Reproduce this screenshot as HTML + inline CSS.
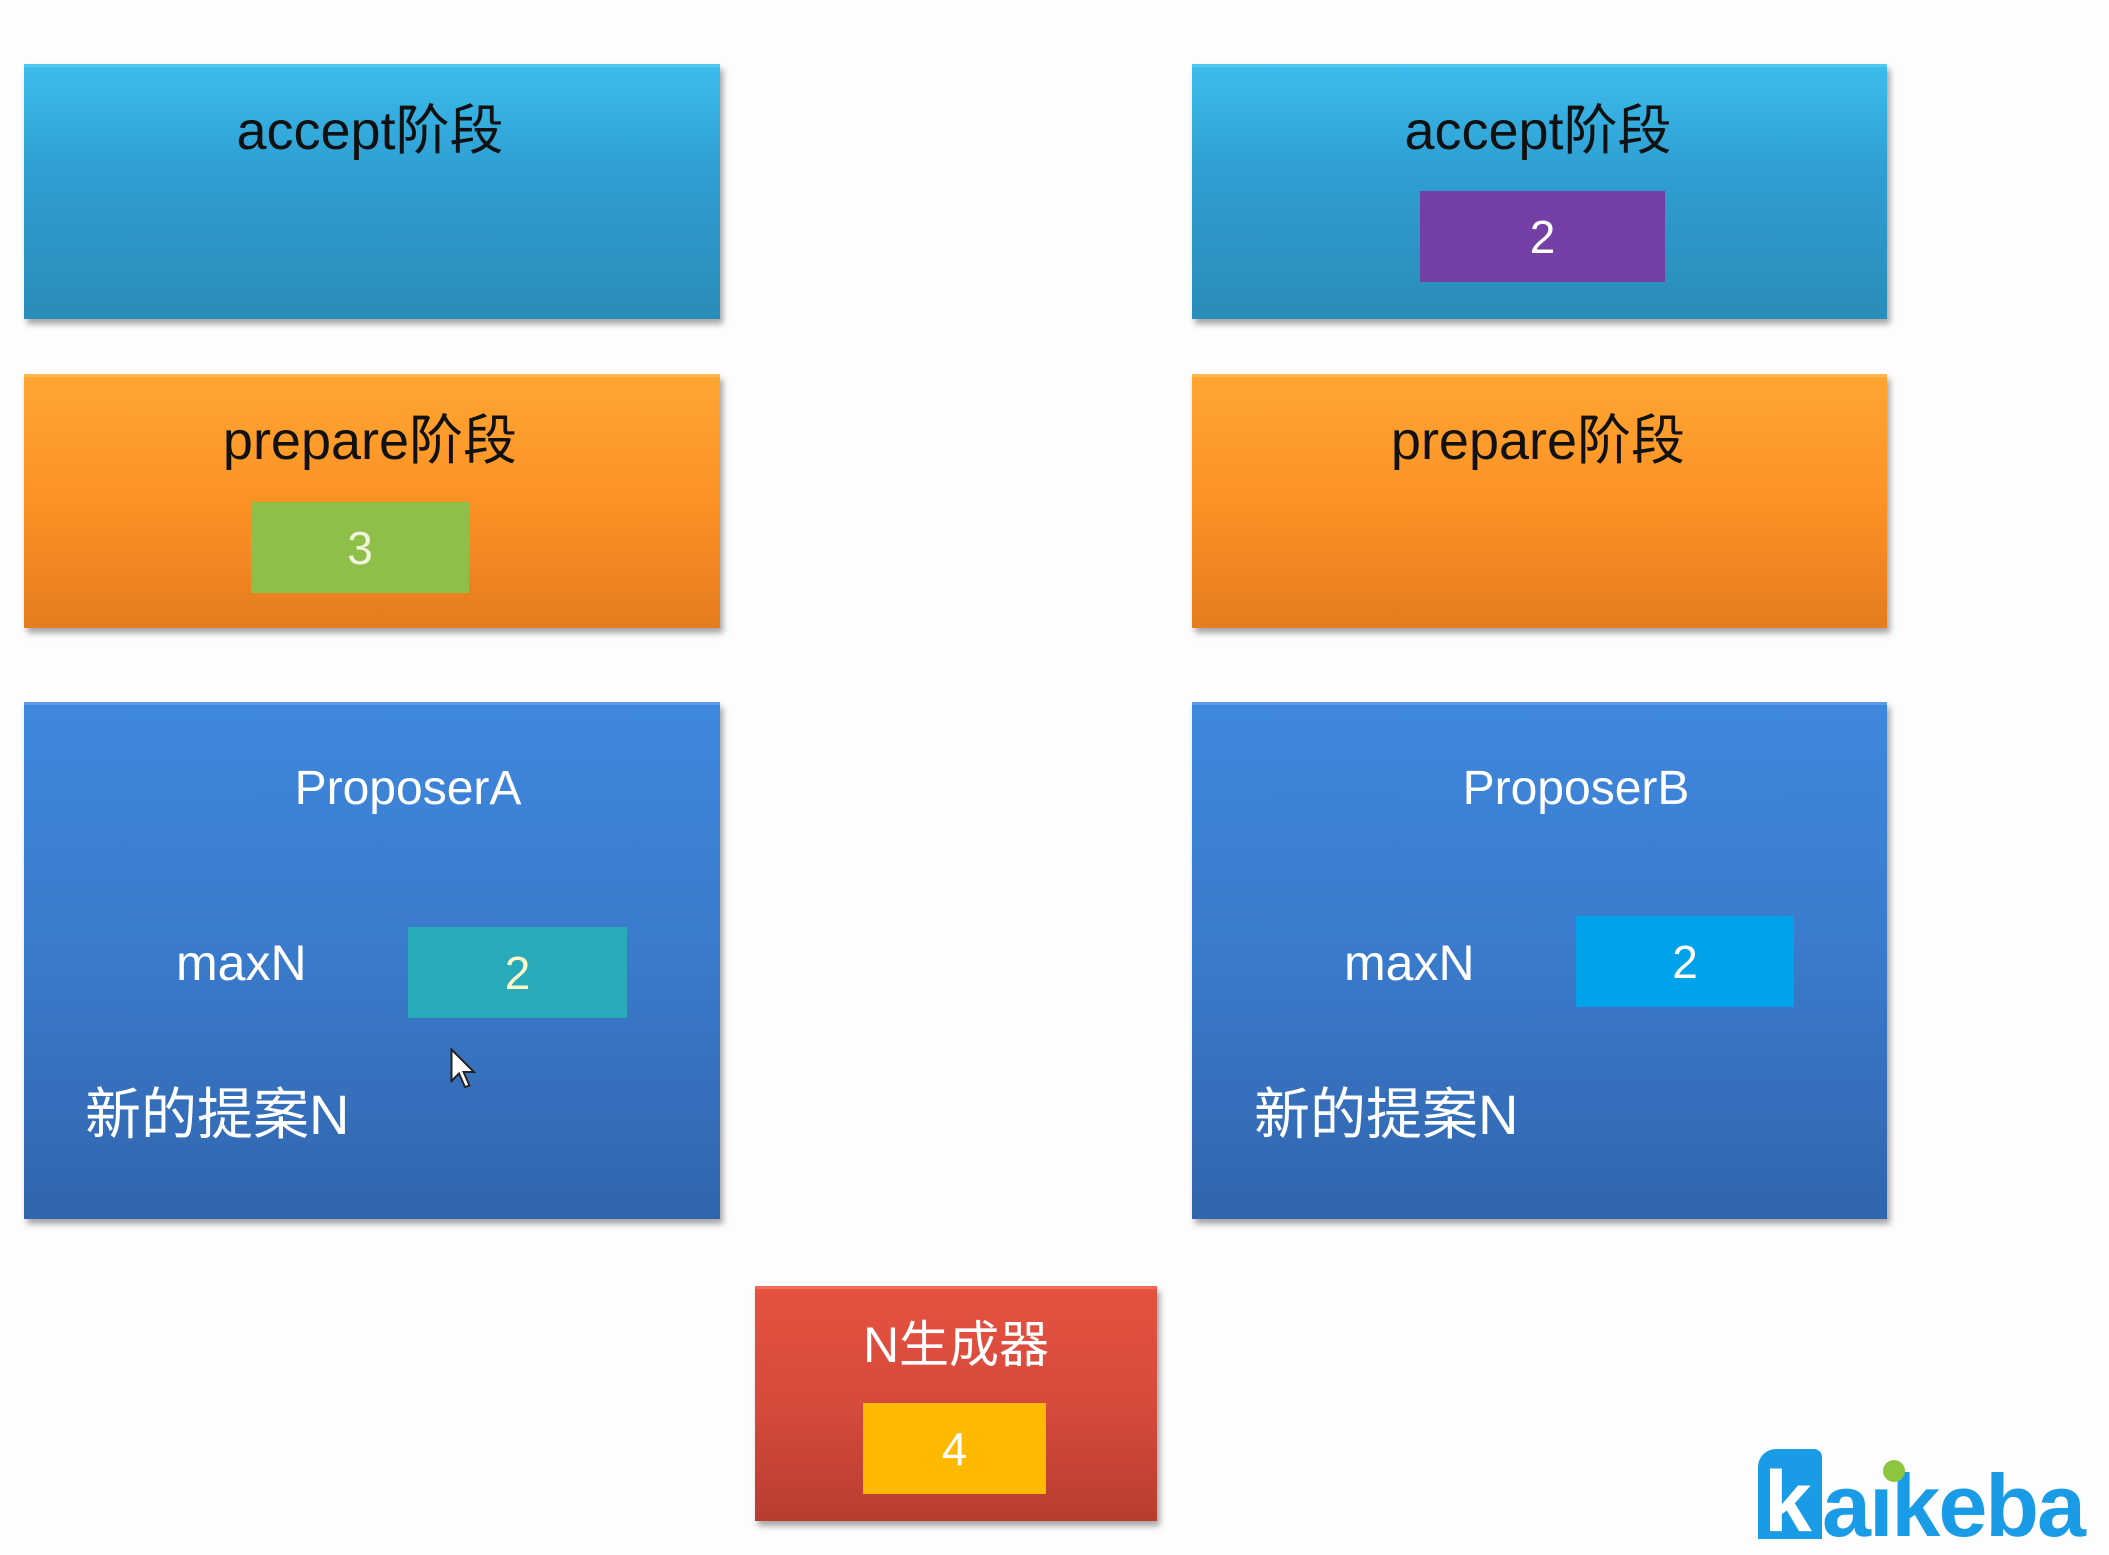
<!DOCTYPE html>
<html><head><meta charset="utf-8"><style>
html,body{margin:0;padding:0;background:#fdfdfd;}
body{width:2109px;height:1534px;position:relative;overflow:hidden;font-family:"Liberation Sans","Noto Sans CJK SC",sans-serif;}
.b{position:absolute;box-shadow:3px 5px 6px rgba(0,0,0,0.35);box-sizing:border-box;}
.acc{background:linear-gradient(#3cbcec,#2f9fd2 40%,#2a8cb9);border-top:3px solid #52c8f0;}
.pre{background:linear-gradient(#ffa532,#fb9224 50%,#e57c1e);border-top:3px solid #ffb64f;}
.pro{background:linear-gradient(#3e88de,#3a7acb 50%,#3165ad);border-top:3px solid #5a9ae8;}
.red{background:linear-gradient(#e65140,#d64a3c 50%,#b73d31);border-top:3px solid #ef6a58;}
.t{position:absolute;white-space:nowrap;text-align:center;line-height:1;}
.sq{position:absolute;color:#fff;font-size:46px;display:flex;align-items:center;justify-content:center;}
</style></head><body>
<div class="b acc" style="left:24px;top:64px;width:696px;height:255px"></div>
<div class="b acc" style="left:1192px;top:64px;width:695px;height:255px"></div>
<div class="b pre" style="left:24px;top:374px;width:696px;height:254px"></div>
<div class="b pre" style="left:1192px;top:374px;width:695px;height:254px"></div>
<div class="b pro" style="left:24px;top:702px;width:696px;height:517px"></div>
<div class="b pro" style="left:1192px;top:702px;width:695px;height:517px"></div>
<div class="b red" style="left:755px;top:1286px;width:402px;height:235px"></div>

<div class="t" style="left:170px;width:400px;top:104px;font-size:54px;color:#111">accept阶段</div>
<div class="t" style="left:1338px;width:400px;top:104px;font-size:54px;color:#111">accept阶段</div>
<div class="t" style="left:170px;width:400px;top:414px;font-size:54px;color:#111">prepare阶段</div>
<div class="t" style="left:1338px;width:400px;top:414px;font-size:54px;color:#111">prepare阶段</div>

<div class="sq" style="left:1420px;top:191px;width:245px;height:91px;background:#7440a6">2</div>
<div class="sq" style="left:251px;top:502px;width:218px;height:91px;background:#8fbf48;color:#eef5dd">3</div>

<div class="t" style="left:258px;width:300px;top:765px;font-size:48px;color:#fff">ProposerA</div>
<div class="t" style="left:1426px;width:300px;top:765px;font-size:48px;color:#fff">ProposerB</div>
<div class="t" style="left:176px;top:938px;font-size:50px;color:#fff;text-align:left">maxN</div>
<div class="t" style="left:1344px;top:938px;font-size:50px;color:#fff;text-align:left">maxN</div>
<div class="sq" style="left:408px;top:927px;width:219px;height:91px;background:#28aab8;color:#fff8c8">2</div>
<div class="sq" style="left:1576px;top:916px;width:218px;height:91px;background:#00a2ea">2</div>
<div class="t" style="left:85px;top:1087px;font-size:56px;color:#fff;text-align:left">新的提案N</div>
<div class="t" style="left:1254px;top:1087px;font-size:56px;color:#fff;text-align:left">新的提案N</div>

<svg style="position:absolute;left:450px;top:1048px" width="30" height="45" viewBox="0 0 20 30"><path d="M1 1 L1 22 L6 17 L10 26 L13 25 L9 16 L16 16 Z" fill="#fff" stroke="#222" stroke-width="1.3"/></svg>

<div class="t" style="left:755px;width:402px;top:1320px;font-size:50px;color:#fff">N生成器</div>
<div class="sq" style="left:863px;top:1403px;width:183px;height:91px;background:#ffb900">4</div>

<div style="position:absolute;left:1758px;top:1449px;width:64px;height:90px;background:#1a9be6;border-radius:18px 8px 0 0;overflow:hidden">
  <div class="t" style="left:6px;top:10px;font-size:86px;font-weight:bold;color:#fff">k</div>
</div>
<div class="t" style="left:1822px;top:1462px;font-size:88px;font-weight:bold;color:#1a9be6;letter-spacing:-2px;text-align:left">aıkeba</div>
<div style="position:absolute;left:1883px;top:1460px;width:22px;height:22px;border-radius:50%;background:#8cc63f"></div>
</body></html>
